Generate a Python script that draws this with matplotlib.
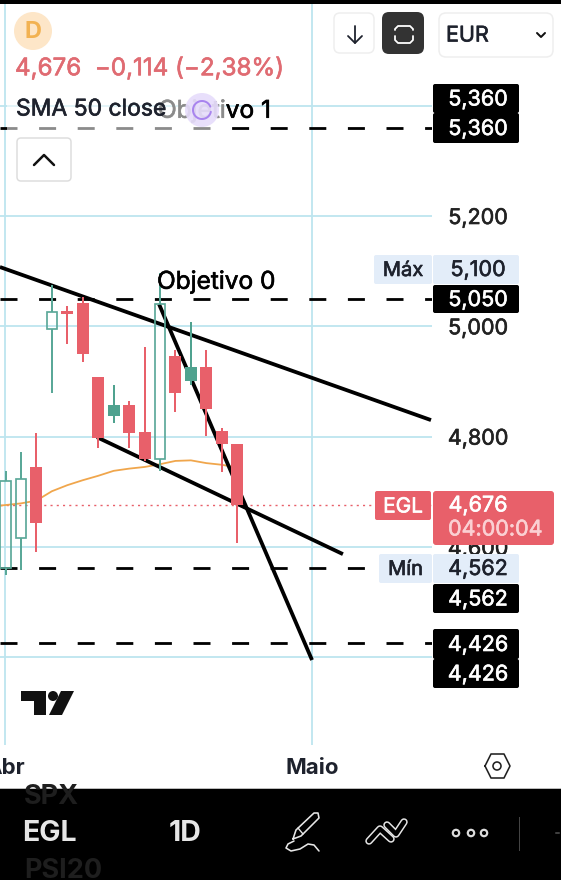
# -*- coding: utf-8 -*-
import numpy as np
import matplotlib
matplotlib.use("Agg")
import matplotlib.pyplot as plt
import matplotlib.patheffects as pe
from matplotlib.patches import Circle, FancyBboxPatch, Polygon, Rectangle

# candles (EGL, 1D)
opens = [4.562, 4.616, 4.745, 4.996, 5.028, 5.042, 4.908, 4.838, 4.857, 4.808, 4.759, 4.947, 4.901, 4.927, 4.811, 4.787]
highs = [4.738, 4.772, 4.806, 5.075, 5.036, 5.054, 4.908, 4.894, 4.865, 4.963, 5.097, 4.957, 5.007, 4.957, 4.815, 4.787]
lows = [4.550, 4.558, 4.590, 4.879, 4.968, 4.935, 4.779, 4.824, 4.779, 4.755, 4.738, 4.845, 4.894, 4.801, 4.735, 4.608]
closes = [4.720, 4.723, 4.643, 5.026, 5.022, 4.950, 4.798, 4.857, 4.807, 4.759, 5.040, 4.879, 4.927, 4.851, 4.787, 4.676]
hollow = [1, 1, 0, 1, 0, 0, 0, 0, 0, 0, 1, 0, 0, 0, 0, 0]

sma_idx = [-1, 0, 1, 2, 3, 4, 5, 6, 7, 8, 9, 10, 11, 12, 13, 14, 15]
sma_50 = [4.673, 4.676, 4.679, 4.684, 4.701, 4.712, 4.721, 4.729, 4.738, 4.742, 4.745, 4.750, 4.756, 4.757, 4.752, 4.749, 4.744]

# drawn trend lines: (idx0, price0, idx1, price1)
trend_lines = [
    (-0.36, 5.1075, 27.54, 4.830),
    (5.92, 4.799, 21.84, 4.587),
    (9.94, 5.040, 19.84, 4.395),
]
target_levels = [5.360, 5.050, 4.562, 4.426]
last_price = 4.676
price_ticks = [4.4, 4.6, 4.8, 5.0, 5.2, 5.4]
month_idx = [-0.03, 19.84]
month_labels = ["Abr", "Maio"]

RED = "#e8606a"
GREEN = "#5aa898"
SOLID_GREEN = "#4fa28f"
GRID = "#bde5ef"
INK = "#1e222d"
PX = 0.72  # pixel -> pt at dpi 100

plt.rcParams["font.family"] = ["Inter", "DejaVu Sans"]
plt.rcParams["lines.scale_dashes"] = False

W, H = 561, 880
fig = plt.figure(figsize=(W / 100, H / 100), dpi=100, facecolor="white")


def thicken(text, color, amount=0.45):
    # Inter only comes in plain and bold here, so fake the medium weight
    text.set_path_effects([pe.withStroke(linewidth=amount, foreground=color)])


# chart area runs 0-432 px wide, 4-745 px high
TOP, BOTTOM, RIGHT = 4, 745, 432
ax = fig.add_axes([0, 1 - BOTTOM / H, RIGHT / W, (BOTTOM - TOP) / H])
ax.set_xlim((0 - 5.5) / 15.45, (RIGHT - 5.5) / 15.45)
ax.set_ylim(5.2 - (BOTTOM - 216) / 551.6, 5.2 - (TOP - 216) / 551.6)
for s in ax.spines.values():
    s.set_visible(False)
ax.set_yticks(price_ticks)
ax.set_yticklabels([f"{p:.3f}".replace(".", ",") for p in price_ticks], fontsize=15.5, color="#222222")
ax.yaxis.tick_right()
ax.tick_params(axis="y", length=0, pad=46 * PX)
for lab in ax.get_yticklabels():
    lab.set_ha("center")
    thicken(lab, "#222222")
ax.set_xticks(month_idx)
ax.set_xticklabels(month_labels, fontsize=16, fontweight="bold", color=INK)
ax.tick_params(axis="x", length=0, pad=13 * PX)
ax.grid(color=GRID, lw=1.8 * PX, zorder=0)
ax.set_axisbelow(True)

for level in target_levels:
    ax.axhline(level, color="black", lw=2.8 * PX, ls=(0, (17 * PX, 21.6 * PX)), zorder=2)
ax.axhline(last_price, color=RED, lw=1.4 * PX, ls=(0, (1.5, 3)), zorder=1.5)
ax.plot(sma_idx, sma_50, color="#f0a64c", lw=1.8 * PX, zorder=1.8)
for x0, y0, x1, y1 in trend_lines:
    ax.plot([x0, x1], [y0, y1], color="black", lw=3.8 * PX, zorder=2.2, solid_capstyle="butt")

for i in range(len(opens)):
    up = closes[i] > opens[i]
    top, bot = max(opens[i], closes[i]), min(opens[i], closes[i])
    col = RED if not up else (GREEN if hollow[i] else SOLID_GREEN)
    ax.vlines(i, top, highs[i], color=col, lw=2 * PX, zorder=3)
    ax.vlines(i, lows[i], bot, color=col, lw=2 * PX, zorder=3)
    if hollow[i]:
        ax.bar(i, top - bot, bottom=bot, width=0.66, facecolor="none", edgecolor=col, lw=1.7 * PX, zorder=3)
    else:
        ax.bar(i, top - bot, bottom=bot, width=0.78, color=col, zorder=3)

# overlay in pixel coordinates for the app interface
ui = fig.add_axes([0, 0, 1, 1], facecolor="none")
ui.set_xlim(0, W)
ui.set_ylim(H, 0)
ui.axis("off")


def box(x0, y0, x1, y1, fc, ec="none", r=3, lw=1.0, z=5):
    ui.add_patch(FancyBboxPatch((x0, y0), x1 - x0, y1 - y0, boxstyle=f"round,pad=0,rounding_size={r}",
                                fc=fc, ec=ec, lw=lw * PX, zorder=z))


def label(x, y, s, color=INK, size=15.5, ha="center", weight="normal", z=6, heavy=0.45):
    t = ui.text(x, y + 1.5, s, color=color, fontsize=size, ha=ha, va="center", fontweight=weight, zorder=z)
    if heavy:
        thicken(t, color, heavy)
    return t


def stroke(xs, ys, color=INK, lw=2.0, z=6):
    ui.plot(xs, ys, color=color, lw=lw * PX, zorder=z, solid_capstyle="round", solid_joinstyle="round")


ui.add_patch(Rectangle((0, 0), W, 4, fc="black", zorder=7))

# header legend
ui.add_patch(Circle((33, 31), 19, fc="#fde6c8", zorder=5))
label(33, 30, "D", color="#f2b252", size=17, weight="bold", heavy=0)
label(15, 67.5, "4,676  −0,114 (−2,38%)", color="#e06b72", size=17.4, ha="left")
label(158, 109.5, "Objetivo 1", color="black", size=17.6, ha="left", z=4)
ui.add_patch(Rectangle((7, 94), 219, 37, fc="white", alpha=0.55, ec="none", zorder=4.5))
ui.add_patch(Circle((202, 110), 17, fc="#e6dcfb", alpha=0.9, zorder=4.6))
ang = np.linspace(0.2, 5.9, 40)
stroke(202 + 9 * np.cos(ang), 110 + 9 * np.sin(ang), color="#a884ee", lw=2, z=4.7)
label(16, 108, "SMA 50 close", size=16.5, ha="left")
box(17, 138, 71, 181, "white", "#dddddd", r=4, lw=1.5)
stroke([34, 44, 54], [165, 155, 165], color="#111111", lw=2.5)

# top right buttons
box(334, 13, 374, 53, "white", "#eeeeee", r=6, lw=1.5)
stroke([355, 355], [26, 43], lw=1.8)
stroke([348, 355, 362], [36, 43, 36], lw=1.8)
box(382, 12, 424, 54, "#333333", r=7)
stroke([395, 395, 398, 410, 413, 413], [30, 29, 26, 26, 29, 30], color="white", lw=1.8)
stroke([395, 395, 398, 410, 413, 413], [36, 40, 43, 43, 40, 36], color="white", lw=1.8)
box(439, 13, 553, 57, "white", "#eeeeee", r=7, lw=1.5)
label(446, 34, "EUR", ha="left", size=15.5)
stroke([537, 541, 545], [33, 37, 33], color="#111111", lw=2)

# Objetivo 0 sits on the chart
label(157, 280.5, "Objetivo 0", color="black", size=17.6, ha="left")

# price scale tags
for y0, y1, txt in [(84, 113, "5,360"), (113, 143, "5,360"), (285, 313, "5,050"),
                    (584, 613, "4,562"), (629, 659, "4,426"), (659, 688, "4,426")]:
    box(433, y0, 519, y1, "black", r=2)
    label(478, (y0 + y1) / 2 - 0.5, txt, color="white")
for x0, x1, y0, y1, side, val in [(374, 432, 255, 284, "Máx", "5,100"), (379, 432, 554, 583, "Mín", "4,562")]:
    box(x0, y0, x1, y1, "#e3edf9", r=2)
    box(433, y0, 519, y1, "#e3edf9", r=2)
    label((x0 + x1) / 2, (y0 + y1) / 2, side, size=14.5)
    label(478, (y0 + y1) / 2 - 1, val)
box(375, 491, 431, 520, RED, r=2)
label(403, 505, "EGL", color="white", size=15)
box(433, 491, 554, 545, RED, r=3)
label(478, 504, "4,676", color="white")
label(495, 528, "04:00:04", color="#fbd0d3", size=15.5)

# TradingView logo
ui.add_patch(Polygon([(21, 691), (46, 691), (46, 715), (34, 715), (34, 701), (21, 701)], fc="#111111", zorder=6))
ui.add_patch(Circle((53, 696), 5, fc="#111111", zorder=6))
ui.add_patch(Polygon([(61, 691), (74, 691), (62, 715), (49, 715)], fc="#111111", zorder=6))

# settings hexagon under the scale
hex_x = [485, 491, 504, 510, 504, 491, 485]
hex_y = [766, 754, 754, 766, 778, 778, 766]
stroke(hex_x, hex_y, color="#222222", lw=1.6)
ui.add_patch(Circle((497, 766), 4, fc="none", ec="#222222", lw=1.6 * PX, zorder=6))

# bottom toolbar
bar = Rectangle((0, 789), W, 91, fc="black", zorder=5)
ui.add_patch(bar)
ui.plot([0, W], [788, 788], color="#bbbbbb", lw=1 * PX, zorder=5)
for x, y, s in [(24, 796, "SPX"), (24, 870, "PSI20")]:
    t = label(x, y, s, color="#1e1e1e", size=19.5, ha="left", weight="bold", heavy=0)
    t.set_clip_path(bar)
label(22, 832, "EGL", color="#e6e6e6", size=20.5, ha="left", weight="bold", heavy=0)
label(169, 832, "1D", color="#e6e6e6", size=20.5, ha="left", weight="bold", heavy=0)

# pencil, chevrons, dots icons
pencil_x = [293, 296, 314, 318, 319, 301, 293]
pencil_y = [839, 830, 813, 813, 818, 836, 839]
stroke(pencil_x, pencil_y, color="#e6e6e6", lw=1.6)
stroke([298, 303], [828, 834], color="#e6e6e6", lw=1.4)
stroke([319, 314, 308, 300, 291, 286, 288, 294], [851, 845, 844, 849, 851, 848, 844, 841], color="#e6e6e6", lw=1.6)
for xs, ys in [([369, 380, 391], [841, 829, 839]), ([387, 396, 404], [825, 834, 822])]:
    stroke(xs, ys, color="#e6e6e6", lw=7.5, z=6)
    stroke(xs, ys, color="black", lw=4.5, z=6.1)
for cx in [456, 471, 484]:
    ui.add_patch(Circle((cx, 833), 3.2, fc="none", ec="#dddddd", lw=2.2 * PX, zorder=6))
ui.plot([519, 519], [817, 850], color="#444444", lw=1 * PX, zorder=6)
ui.plot([556, 559], [833, 833], color="#555555", lw=1.5 * PX, zorder=6)

fig.savefig("out.png", dpi=100, facecolor="white")
